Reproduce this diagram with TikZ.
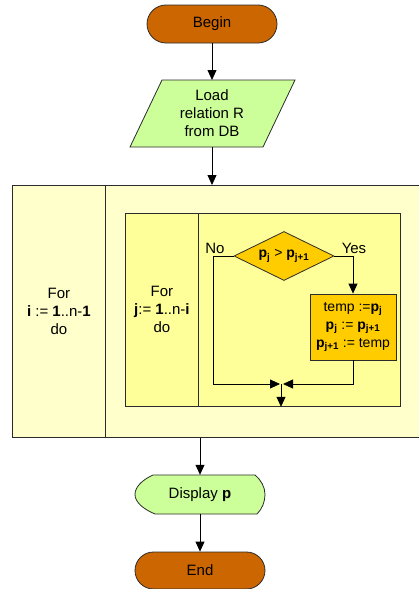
\documentclass[tikz,border=0pt]{standalone}
\usepackage{fontspec}
\setmainfont{Liberation Sans}
\usetikzlibrary{arrows.meta,shapes.misc,shapes.geometric}

\definecolor{termfill}{HTML}{CC6600}
\definecolor{iofill}{HTML}{CCFF99}
\definecolor{outerfill}{HTML}{FFFFCC}
\definecolor{innerfill}{HTML}{FFFF99}
\definecolor{stepfill}{HTML}{FFCC00}
\definecolor{edge}{HTML}{2B2B2B}

% bold variable with a bold subscript
\newcommand\pv[1]{\textbf{p}\textsubscript{\textbf{#1}}}

\tikzset{
  terminal/.style={rounded rectangle, draw=edge, fill=termfill, line width=0.8pt,
    minimum width=130pt, minimum height=38pt, inner sep=0pt},
  iobox/.style={draw=edge, fill=iofill, line width=0.8pt},
  looppart/.style={draw=edge, line width=0.8pt, anchor=north west, inner sep=0pt, align=center},
  decision/.style={diamond, draw=edge, fill=stepfill, line width=0.8pt, aspect=2,
    minimum width=100pt, minimum height=49pt, inner sep=0pt, font=\fontsize{14}{18}\selectfont},
  process/.style={rectangle, draw=edge, fill=stepfill, line width=0.8pt,
    minimum width=86pt, minimum height=66pt, inner sep=0pt, align=center,
    font=\fontsize{14}{18}\selectfont},
  flow/.style={draw=black, line width=0.8pt, -{Triangle[length=10pt,width=9pt]}},
}

\begin{document}
\begin{tikzpicture}[x=1pt, y=-1pt, font=\fontsize{15}{18}\selectfont]
\useasboundingbox (0,0) rectangle (419,589);
\clip (0,0) rectangle (419,589);

% start
\node[terminal] (begin) at (212,24) {Begin};

% input: load relation
\draw[iobox] (130,147) -- (263,147) -- (295,80) -- (162,80) -- cycle;
\node[align=center] (load) at (212,113.5) {Load\\relation R\\from DB};
\coordinate (loadtop) at (212,80);
\coordinate (loadbot) at (212,147);

% outer loop over i
\node[looppart, fill=outerfill, minimum width=93pt, minimum height=252pt] (iloop) at (12,185)
  {For\\\textbf{i} := \textbf{1}..n-\textbf{1}\\do};
\node[looppart, fill=outerfill, minimum width=320pt, minimum height=252pt] (ibody) at (105,185) {};

% inner loop over j
\node[looppart, fill=innerfill, minimum width=73pt, minimum height=193pt] (jloop) at (125,213)
  {For\\\textbf{j}:= \textbf{1}..n-\textbf{i}\\do};
\node[looppart, fill=innerfill, minimum width=202pt, minimum height=193pt] (jbody) at (198,213) {};

% comparison and swap
\node[decision] (cmp) at (284,256) {\pv{j} > \pv{j+1}};
\node[process] (swap) at (353,327) {temp :=\pv{j}\\\pv{j} := \pv{j+1}\\\pv{j+1} := temp};

\node[anchor=south] (nolab) at (215,257) {No};
\node[anchor=south] (yeslab) at (354,257) {Yes};

\coordinate (merge) at (281,384);
\coordinate (noturn) at (213,384);

% display and end
\draw[iobox] (153,475) -- (255,475)
  .. controls (261,480) and (265,487) .. (265,494.5)
  .. controls (265,502) and (262,509) .. (257,514)
  -- (155,514)
  .. controls (143,509) and (135,502) .. (135,494.5)
  .. controls (135,487) and (142,480) .. (153,475) -- cycle;
\node[minimum width=130pt, minimum height=39pt, inner sep=0pt] (disp) at (200,494.5) {Display \textbf{p}};
\node[terminal, minimum height=37pt] (end) at (200,570.5) {End};

% connectors
\draw[flow] (begin.south) -- (loadtop);
\draw[flow] (loadbot) -- (loadbot |- ibody.north);
\draw[flow] (cmp.west) -| (noturn) -- ([xshift=-1pt]merge);
\draw[flow] (cmp.east) -| (swap.north);
\draw[flow] (swap.south) |- ([xshift=2pt]merge);
\draw[flow] (merge) -- (merge |- jbody.south);
\draw[flow] (disp.north |- ibody.south) -- (disp.north);
\draw[flow] (disp.south) -- (end.north);
\end{tikzpicture}
\end{document}
